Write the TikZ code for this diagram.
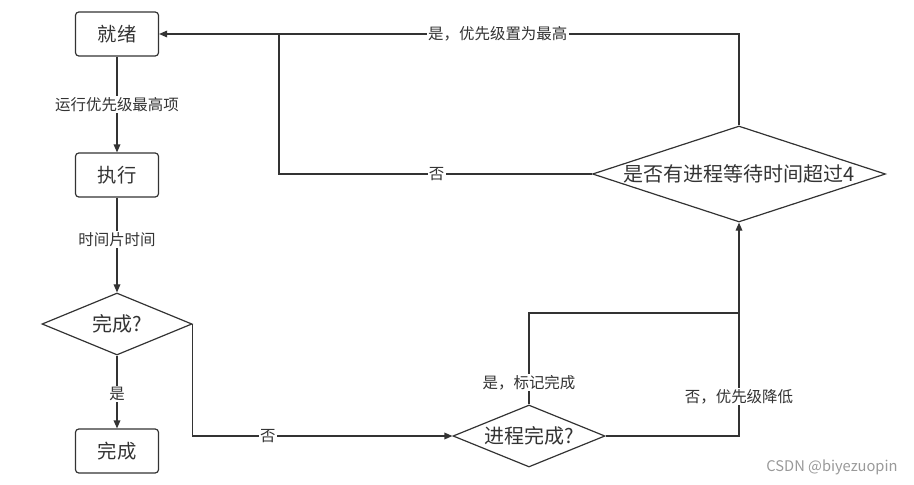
\documentclass[tikz,border=0pt]{standalone}
\usepackage{fontspec}
\setmainfont{Noto Sans CJK SC}
\usetikzlibrary{shapes.geometric,arrows.meta}
\definecolor{ink}{HTML}{333333}
\tikzset{
  boxnode/.style={draw=ink, line width=0.9pt, rounded corners=2.5pt, minimum width=62.25pt, minimum height=33pt, inner sep=0pt, font=\fontsize{14.5}{16}\selectfont, text=ink},
  decision/.style={draw=ink, line width=0.9pt, diamond, inner sep=0pt, font=\fontsize{15}{17}\selectfont, text=ink},
  lbl/.style={fill=white, inner sep=1pt, font=\fontsize{11.6}{13}\selectfont, text=ink},
  conn/.style={draw=ink, line width=0.9pt},
  arr/.style={conn, -{Triangle[length=6pt,width=5pt]}},
}
\begin{document}
\begin{tikzpicture}[x=0.75pt,y=-0.75pt]
\useasboundingbox (0,0) rectangle (914,485);
\node[boxnode] (ready) at (117,34) {就绪};
\node[boxnode] (exec) at (117,175) {执行};
\node[decision, shape aspect=2.42, minimum width=112.5pt, minimum height=46.5pt] (q1) at (117,324) {完成?};
\node[boxnode] (done) at (117,451) {完成};
\node[decision, shape aspect=2.45, minimum width=114pt, minimum height=46.5pt] (q2) at (529,436) {进程完成?};
\node[decision, shape aspect=3.05, minimum width=219.75pt, minimum height=72pt] (q3) at (739,174) {是否有进程等待时间超过4};
\coordinate (j1) at (739,313);
\coordinate (j2) at (279,34);

\draw[arr] (ready) -- node[lbl]{运行优先级最高项} (exec);
\draw[arr] (exec) -- node[lbl, pos=0.44]{时间片时间} (q1);
\draw[arr] (q1) -- node[lbl, pos=0.53]{是} (done);
\draw[arr] (q1.east) |- node[lbl, pos=0.645]{否} (q2.west);
\draw[conn] (q2.north) |- node[lbl, pos=0.12]{是，标记完成} (j1);
\draw[conn] (q2.east) -| node[lbl, pos=0.66]{否，优先级降低} (j1);
\draw[arr] (j1) -- (q3.south);
\draw[arr] (q3.north) |- node[lbl, pos=0.708]{是，优先级置为最高} (ready.east);
\draw[conn] (q3.west) -| node[lbl, pos=0.248]{否} (j2);

\node[text=black!40, font=\fontsize{11}{13}\selectfont, inner sep=0pt] (wm) at (832,467) {CSDN @biyezuopin};
\end{tikzpicture}
\end{document}
